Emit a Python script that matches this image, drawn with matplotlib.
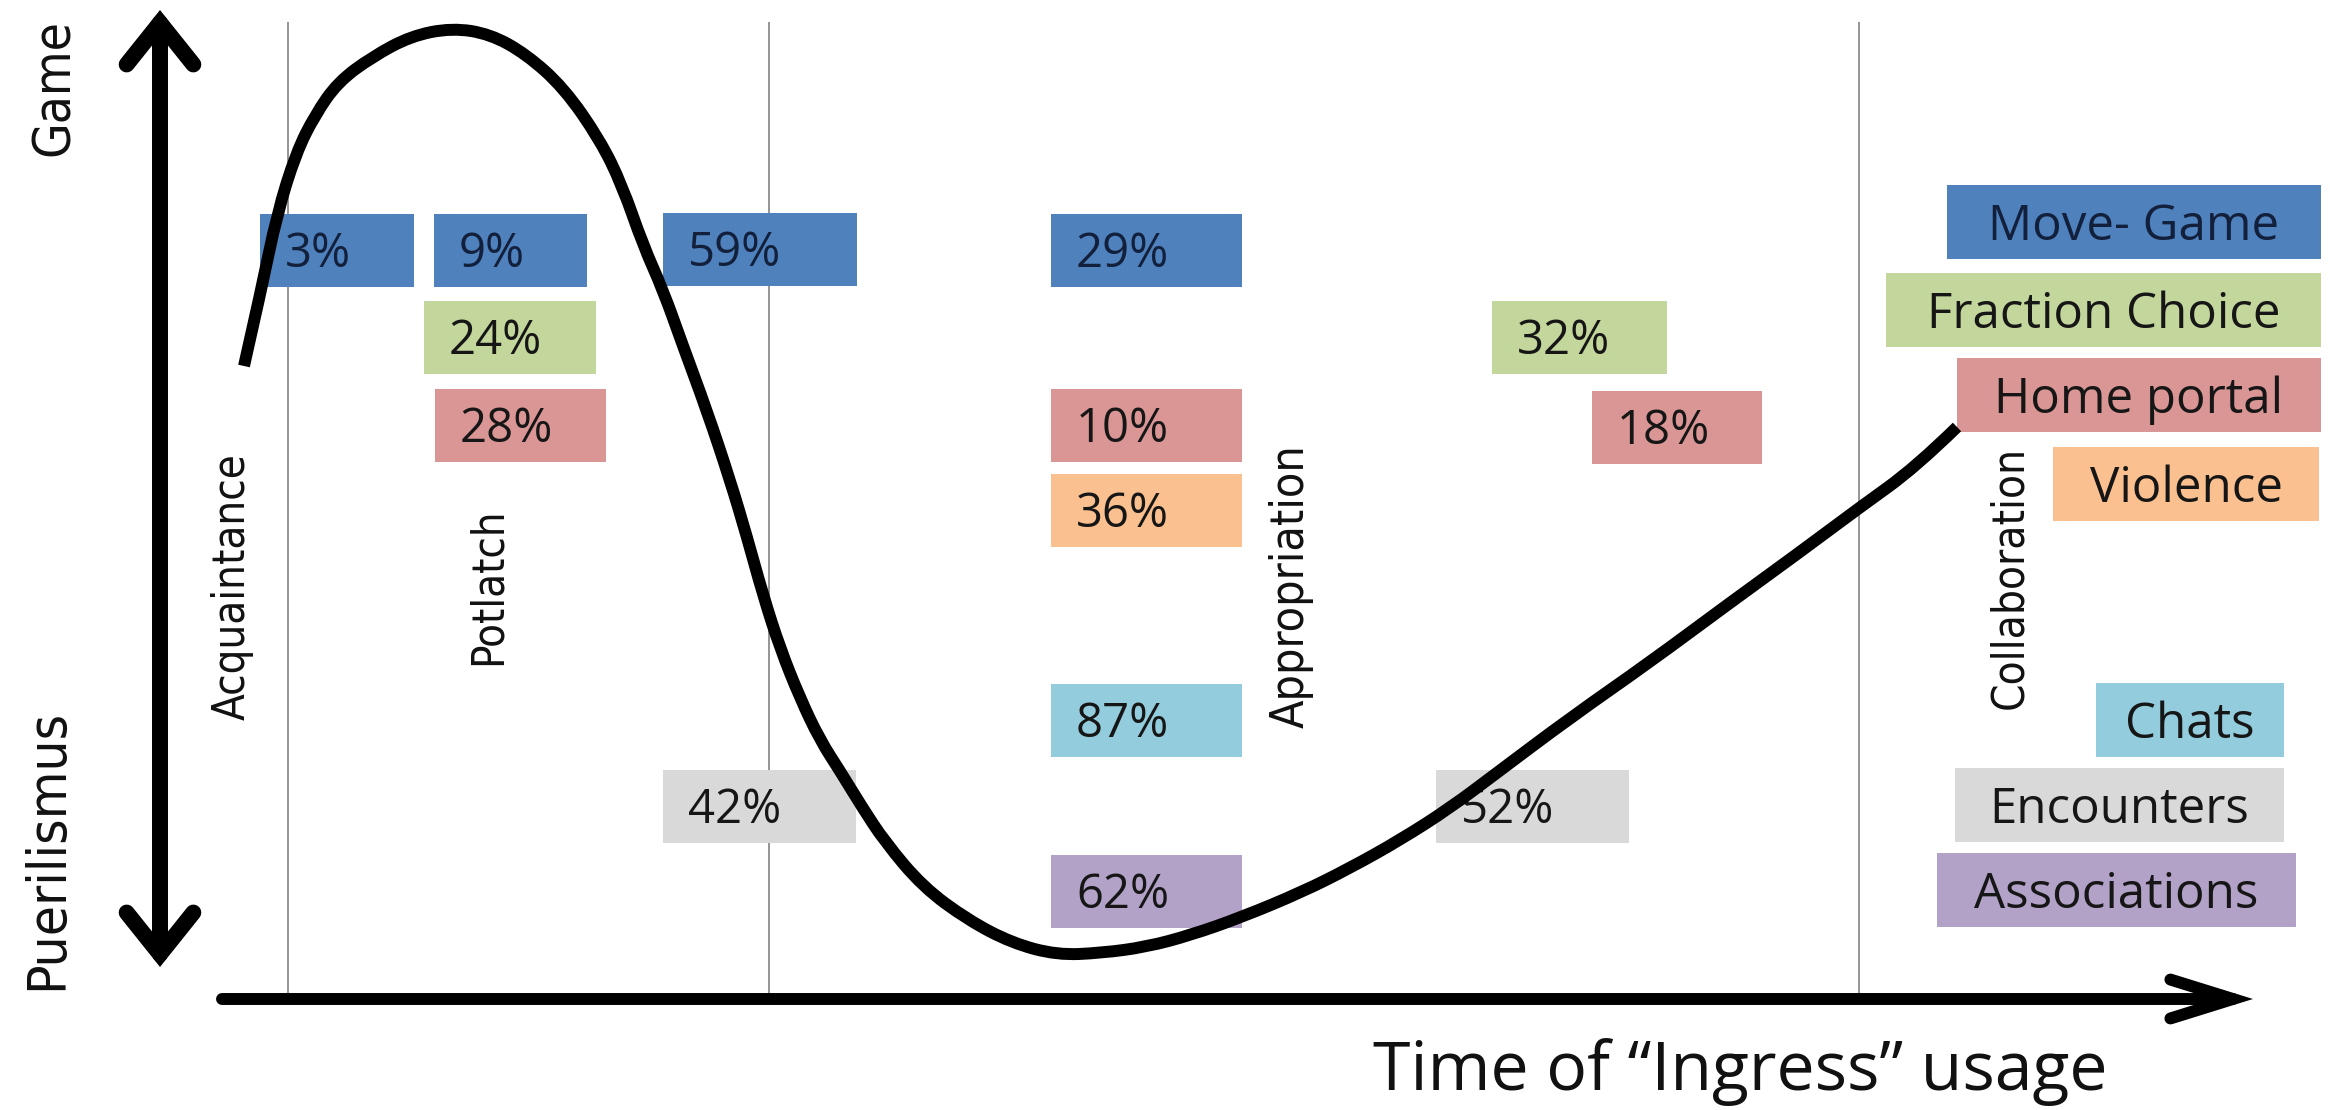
import os
import matplotlib
matplotlib.use("Agg")
import matplotlib.pyplot as plt
import matplotlib.font_manager as fm
from matplotlib.patches import Rectangle, FancyArrowPatch, ArrowStyle, PathPatch
from matplotlib.path import Path

# ------------------------------------------------------------------ data
categories = ["Move- Game", "Fraction Choice", "Home portal", "Violence",
              "Chats", "Encounters", "Associations"]
cat_colors = ["#4F81BD", "#C3D69B", "#D99694", "#FAC090",
              "#93CDDD", "#D9D9D9", "#B3A2C7"]

phases = ["Acquaintance", "Potlatch", "Appropriation", "Collaboration"]
top_label = "Game"
bottom_label = "Puerilismus"
x_label = "Time of \u201cIngress\u201d usage"

# percentages written in the boxes, per category
move_game = [3, 9, 59, 29]
fraction_choice = [24, 32]
home_portal = [28, 10, 18]
violence = [36]
chats = [87]
encounters = [42, 52]
associations = [62]
values = [move_game, fraction_choice, home_portal, violence, chats,
          encounters, associations]

# curve (pixel space, y downwards)
curve_x = [244, 261, 277, 296, 315, 338, 372, 411, 452, 490, 526, 564, 600,
           622, 643, 663, 683, 707, 730, 747, 763, 780, 800, 820, 840, 862,
           885, 923, 968, 1012, 1057, 1101, 1146, 1191, 1242, 1302, 1350,
           1400, 1450, 1498, 1570, 1650, 1727, 1800, 1859, 1916, 1957]
curve_y = [366, 291, 214, 153, 115, 82, 57, 36, 28, 34, 54, 88, 140,
           185, 245, 290, 346, 411, 480, 537, 595, 648, 698, 740, 771, 807,
           842, 887, 920, 943, 955, 953, 947, 935, 917, 892, 868,
           840, 808, 772, 718, 662, 605, 552, 508, 467, 427]

# ------------------------------------------------------------------ layout
W, H = 2330, 1110
BOX_H = 73
# (left, top, width) of each value box, same order as the value lists
box_layout = [
    [(260, 214, 154), (434, 214, 153), (663, 213, 194), (1051, 214, 191)],
    [(424, 301, 172), (1492, 301, 175)],
    [(435, 389, 171), (1051, 389, 191), (1592, 391, 170)],
    [(1051, 474, 191)],
    [(1051, 684, 191)],
    [(663, 770, 193), (1436, 770, 193)],
    [(1051, 855, 191)],
]
# (left, top, right) of the legend boxes
legend_layout = [(1947, 185, 2321), (1886, 273, 2321), (1957, 358, 2321),
                 (2053, 447, 2319), (2096, 683, 2284), (1955, 768, 2284),
                 (1937, 853, 2296)]
# rotated labels: (center x, center y, length)
phase_layout = [(232, 587, 266), (488, 586, 158), (1291, 586, 283),
                (2010, 577, 263)]
divider_x = [288, 769, 1859]

# ------------------------------------------------------------------ fonts
_files = {os.path.basename(f.fname): f.fname for f in fm.fontManager.ttflist}


def find_font(cands):
    for c in cands:
        if c in _files:
            return fm.FontProperties(fname=_files[c])
    return fm.FontProperties(family="DejaVu Sans")


narrow = find_font(["NotoSans-Condensed.ttf", "LiberationSansNarrow-Regular.ttf",
                    "NotoSans-SemiCondensed.ttf", "OpenSans-CondensedRegular.ttf",
                    "DejaVuSansCondensed.ttf", "RobotoCondensed-Regular.ttf"])
xnarrow = find_font(["NotoSans-ExtraCondensed.ttf", "NotoSans-Condensed.ttf",
                     "LiberationSansNarrow-Regular.ttf",
                     "OpenSans-CondensedRegular.ttf", "DejaVuSansCondensed.ttf",
                     "RobotoCondensed-Regular.ttf"])
MAIN = ["Open Sans", "DejaVu Sans"]

# ------------------------------------------------------------------ figure
fig = plt.figure(figsize=(W / 100, H / 100), dpi=100)
ax = fig.add_axes([0, 0, 1, 1])
ax.set_xlim(0, W)
ax.set_ylim(H, 0)
ax.axis("off")
renderer = fig.canvas.get_renderer()


def fit(t, target, vertical):
    for _ in range(3):
        bb = t.get_window_extent(renderer)
        cur = bb.height if vertical else bb.width
        t.set_fontsize(t.get_fontsize() * target / cur)


# phase dividers
ax.vlines(divider_x, 22, 1000, colors="#8c8c8c", lw=1.3, zorder=1)

# value boxes
PCT_PT = 34
cap = 0.714 * PCT_PT / 0.72
for ci, (vals, lay) in enumerate(zip(values, box_layout)):
    tc = "#12203c" if ci == 0 else "#161616"
    for v, (l, t, w) in zip(vals, lay):
        ax.add_patch(Rectangle((l, t), w, BOX_H, facecolor=cat_colors[ci],
                               edgecolor="none", zorder=2))
        ax.text(l + 25, t + BOX_H / 2 + cap / 2, f"{v}%", ha="left",
                va="baseline", fontsize=PCT_PT, family=MAIN, color=tc,
                zorder=3)

# legend boxes
LEG_PT = 35.5
capl = 0.714 * LEG_PT / 0.72
for ci, (name, (l, t, r)) in enumerate(zip(categories, legend_layout)):
    tc = "#12203c" if ci == 0 else "#161616"
    ax.add_patch(Rectangle((l, t), r - l, BOX_H + 1, facecolor=cat_colors[ci],
                           edgecolor="none", zorder=2))
    ax.text((l + r) / 2, t + (BOX_H + 1) / 2 + capl / 2, name, ha="center",
            va="baseline", fontsize=LEG_PT, family=MAIN, color=tc, zorder=3)

# phase labels (rotated)
for name, (cx, cy, ln) in zip(phases, phase_layout):
    t = ax.text(cx, cy, name, rotation=90, ha="center", va="center",
                fontproperties=narrow.copy(), color="#111111", zorder=3)
    t.set_fontsize(30)
    fit(t, ln, True)

# vertical axis labels
t = ax.text(55, 88, top_label, rotation=90, ha="center", va="center",
            fontproperties=xnarrow.copy(), color="#111111")
t.set_fontsize(40)
fit(t, 137, True)
t = ax.text(47, 849, bottom_label, rotation=90, ha="center", va="center",
            fontproperties=xnarrow.copy(), color="#111111")
t.set_fontsize(40)
fit(t, 280, True)

# x label
ax.text(1740, 1072, x_label, ha="center", va="center", fontsize=49,
        family=MAIN, color="#111111")

# curve: smooth quadratic B-spline through the read points
pts = list(zip(curve_x, curve_y))
verts = [pts[0]]
codes = [Path.MOVETO]
for i in range(1, len(pts) - 1):
    mid = ((pts[i][0] + pts[i + 1][0]) / 2, (pts[i][1] + pts[i + 1][1]) / 2)
    verts += [pts[i], mid]
    codes += [Path.CURVE3, Path.CURVE3]
verts[-1] = pts[-1]
ax.add_patch(PathPatch(Path(verts, codes), facecolor="none", edgecolor="black",
                       lw=8.6, capstyle="butt", joinstyle="round", zorder=4))

# vertical double arrow
va_style = ArrowStyle("<->", head_length=30, head_width=24)
ax.add_patch(FancyArrowPatch((160, 967), (160, 10), arrowstyle=va_style,
                             mutation_scale=1, lw=11.5, color="black",
                             shrinkA=0, shrinkB=0, capstyle="round",
                             joinstyle="miter", zorder=5))
# horizontal arrow
ha_style = ArrowStyle("->", head_length=45, head_width=14)
ax.add_patch(FancyArrowPatch((222, 999), (2253, 999), arrowstyle=ha_style,
                             mutation_scale=1, lw=8.6, color="black",
                             shrinkA=0, shrinkB=0, capstyle="round",
                             joinstyle="miter", zorder=5))

fig.savefig("out.png", dpi=100, facecolor="white")
